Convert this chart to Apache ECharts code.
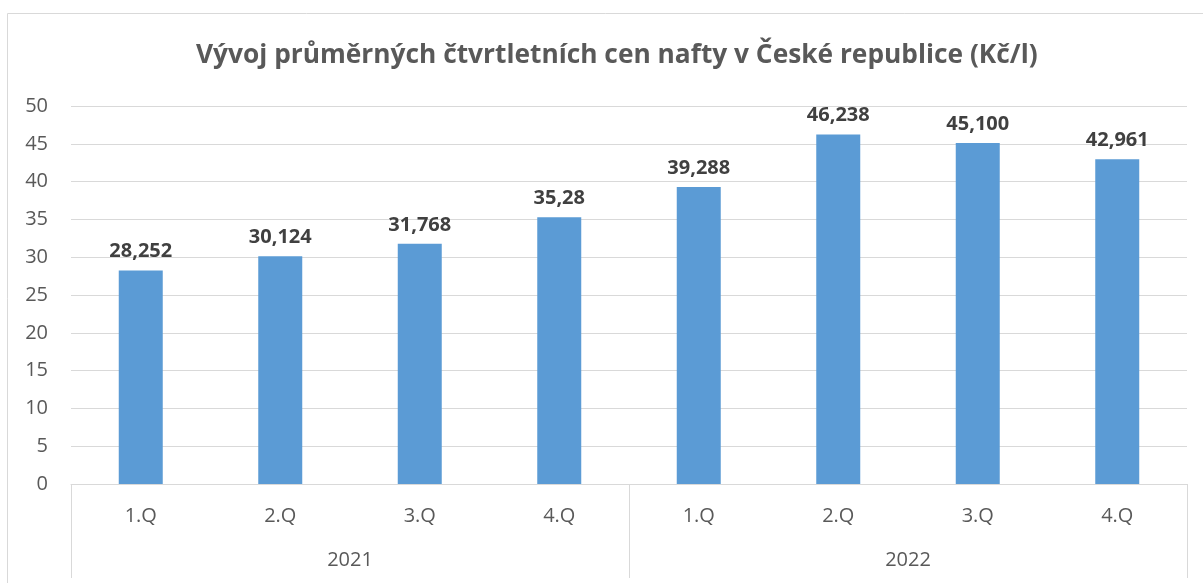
<!DOCTYPE html>
<html>
<head>
<meta charset="utf-8">
<script src="https://cdn.jsdelivr.net/npm/echarts@6/dist/echarts.min.js"></script>
<style>
  html, body { margin: 0; padding: 0; background: #fff; }
  #chart { width: 1203px; height: 583px; }
</style>
</head>
<body>
<div id="chart"></div>
<script>
// data
const quarters = ['1.Q', '2.Q', '3.Q', '4.Q', '1.Q', '2.Q', '3.Q', '4.Q']
const years = ['2021', '2022']
const prices = [28.252, 30.124, 31.768, 35.28, 39.288, 46.238, 45.1, 42.961]
const priceLabels = ['28,252', '30,124', '31,768', '35,28', '39,288', '46,238', '45,100', '42,961']

const font = 'Open Sans'
const myChart = echarts.init(document.getElementById('chart'), null, { renderer: 'canvas' })

myChart.setOption({
  animation: false,
  textStyle: { fontFamily: font },
  graphic: [{
    type: 'rect',
    shape: { x: 7.5, y: 13.5, width: 1200, height: 600 },
    style: { fill: 'none', stroke: '#d9d9d9', lineWidth: 1 },
    silent: true
  }],
  title: {
    text: 'Vývoj průměrných čtvrtletních cen nafty v České republice (Kč/l)',
    left: 191,
    top: 38,
    textStyle: { fontFamily: font, fontSize: 26.3, fontWeight: 'bold', color: '#595959' }
  },
  grid: { left: 71, right: 16, top: 106, bottom: 99, containLabel: false },
  xAxis: [
    {
      type: 'category',
      data: quarters,
      position: 'bottom',
      axisLine: { lineStyle: { color: '#d9d9d9', width: 1 } },
      axisTick: { show: false },
      axisLabel: { color: '#595959', fontSize: 20, margin: 22, fontFamily: font }
    },
    {
      type: 'category',
      data: years,
      position: 'bottom',
      offset: 0,
      axisLine: { show: false },
      axisTick: { show: true, length: 94, lineStyle: { color: '#d9d9d9', width: 1 } },
      axisLabel: { color: '#595959', fontSize: 20, margin: 66, fontFamily: font }
    }
  ],
  yAxis: {
    type: 'value',
    min: 0,
    max: 50,
    interval: 5,
    axisLine: { show: false },
    axisTick: { show: false },
    splitLine: { lineStyle: { color: '#d9d9d9', width: 1 } },
    axisLabel: { color: '#595959', fontSize: 20, margin: 23, fontFamily: font }
  },
  series: [{
    type: 'bar',
    xAxisIndex: 0,
    data: prices,
    barWidth: 44,
    itemStyle: { color: '#5b9bd5' },
    label: {
      show: true,
      position: 'top',
      distance: 9,
      formatter: p => priceLabels[p.dataIndex],
      color: '#404040',
      fontSize: 20,
      fontWeight: 'bold',
      fontFamily: font
    }
  }]
})
</script>
</body>
</html>
